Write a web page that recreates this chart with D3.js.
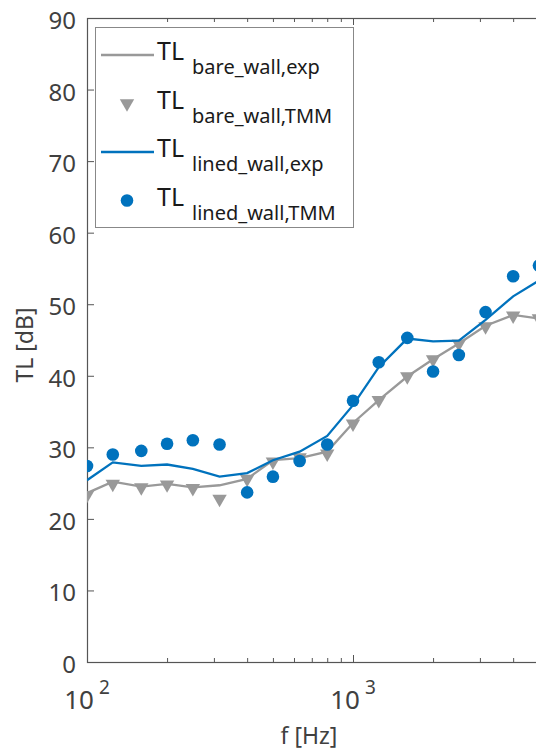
<!DOCTYPE html>
<html>
<head>
<meta charset="utf-8">
<script src="https://cdn.jsdelivr.net/npm/d3@7"></script>
<style>
  body { margin: 0; background: #fff; }
  text { font-family: "Noto Sans", "Open Sans", sans-serif; }
</style>
</head>
<body>
<div id="my_dataviz"></div>
<script>
// third-octave band centre frequencies
var freqs = [100, 125, 160, 200, 250, 315, 400, 500, 630, 800, 1000, 1250, 1600, 2000, 2500, 3150, 4000, 5000];

// measured / modelled transmission loss (dB)
var bareExp  = [23.6, 25.2, 24.5, 24.9, 24.4, 24.7, 25.6, 28.2, 28.5, 29.4, 33.4, 36.6, 39.9, 42.3, 44.5, 47.0, 48.5, 48.0];
var bareTMM  = [23.3, 24.9, 24.4, 24.8, 24.3, 22.8, 25.6, 28.0, 28.6, 29.1, 33.3, 36.6, 39.9, 42.3, 44.5, 46.9, 48.4, 48.0];
var linedExp = [25.4, 27.9, 27.4, 27.6, 27.0, 25.9, 26.4, 28.2, 29.4, 31.6, 35.9, 41.2, 45.2, 44.8, 44.9, 47.8, 51.1, 53.3];
var linedTMM = [27.4, 29.0, 29.5, 30.5, 31.0, 30.4, 23.7, 25.9, 28.1, 30.4, 36.5, 41.9, 45.3, 40.6, 42.9, 48.9, 53.9, 55.4];

var yTicks = [0, 10, 20, 30, 40, 50, 60, 70, 80, 90];
var xMajor = [100, 1000, 10000];
var xLabels = [100, 1000];   // 10^4 sits outside the visible picture
var xMinor = [200, 300, 400, 500, 600, 700, 800, 900, 2000, 3000, 4000, 5000, 6000, 7000, 8000, 9000];
var legendItems = [
  {sub: "bare_wall,exp", kind: "line", color: "#999999"},
  {sub: "bare_wall,TMM", kind: "tri", color: "#999999"},
  {sub: "lined_wall,exp", kind: "line", color: "#0072BD"},
  {sub: "lined_wall,TMM", kind: "dot", color: "#0072BD"}
];

var W = 536, H = 749;
var pLeft = 87, pTop = 18, pBottom = 662, pRight = 619;

var svg = d3.select("#my_dataviz")
  .append("svg")
    .attr("width", W)
    .attr("height", H);

var x = d3.scaleLog().domain([100, 10000]).range([pLeft, pRight]);
var y = d3.scaleLinear().domain([0, 90]).range([pBottom, pTop]);

svg.append("clipPath").attr("id", "clip")
  .append("rect")
    .attr("x", pLeft).attr("y", pTop)
    .attr("width", pRight - pLeft).attr("height", pBottom - pTop);

var axisColor = "#555";
var textColor = "#404040";

// box
svg.append("rect")
  .attr("x", pLeft + 0.5).attr("y", pTop + 0.5)
  .attr("width", pRight - pLeft).attr("height", pBottom - pTop)
  .attr("fill", "none")
  .attr("stroke", axisColor)
  .attr("stroke-width", 1.2);

// y ticks (inward) + labels
svg.selectAll("ytick")
  .data(yTicks)
  .enter()
  .append("line")
    .attr("x1", pLeft).attr("x2", pLeft + 7)
    .attr("y1", d => y(d) + 0.5).attr("y2", d => y(d) + 0.5)
    .attr("stroke", axisColor);

svg.selectAll("ylabel")
  .data(yTicks)
  .enter()
  .append("text")
    .attr("x", pLeft - 11)
    .attr("y", d => y(d) + 11)
    .attr("text-anchor", "end")
    .attr("fill", textColor)
    .style("font-size", "24px")
    .text(d => d);

// x ticks, bottom and top
[[pBottom, -1], [pTop, 1]].forEach(function (s) {
  svg.selectAll("xmaj")
    .data(xMajor)
    .enter()
    .append("line")
      .attr("x1", d => x(d) + 0.5).attr("x2", d => x(d) + 0.5)
      .attr("y1", s[0]).attr("y2", d => s[0] + s[1] * 7)
      .attr("stroke", axisColor);
  svg.selectAll("xmin")
    .data(xMinor)
    .enter()
    .append("line")
      .attr("x1", d => x(d) + 0.5).attr("x2", d => x(d) + 0.5)
      .attr("y1", s[0]).attr("y2", d => s[0] + s[1] * 4)
      .attr("stroke", axisColor);
});

// x tick labels 10^n
var xl = svg.selectAll("xlabel")
  .data(xLabels)
  .enter()
  .append("text")
    .attr("x", d => x(d))
    .attr("y", 709)
    .attr("text-anchor", "middle")
    .attr("fill", textColor)
    .style("font-size", "26px");
xl.append("tspan").text("10");
xl.append("tspan")
  .attr("dx", 5).attr("dy", -15)
  .style("font-size", "19px")
  .text(d => Math.round(Math.log10(d)));

// axis titles
svg.append("text")
  .attr("x", 309).attr("y", 744)
  .attr("text-anchor", "middle")
  .attr("fill", textColor)
  .style("font-size", "23px")
  .text("f [Hz]");

svg.append("text")
  .attr("transform", "translate(33,345)rotate(-90)")
  .attr("text-anchor", "middle")
  .attr("fill", textColor)
  .style("font-size", "23px")
  .text("TL [dB]");

// data
var plot = svg.append("g").attr("clip-path", "url(#clip)");

var line = d3.line()
  .x(d => x(d[0]))
  .y(d => y(d[1]));

plot.append("path")
  .datum(freqs.map((f, i) => [f, bareExp[i]]))
  .attr("d", line)
  .attr("fill", "none")
  .attr("stroke", "#999999")
  .attr("stroke-width", 2.3);

var tri = d3.symbol().type(d3.symbolTriangle).size(90);

plot.selectAll("mytri")
  .data(freqs.map((f, i) => [f, bareTMM[i]]))
  .enter()
  .append("path")
    .attr("d", tri)
    .attr("transform", d => "translate(" + x(d[0]) + "," + y(d[1]) + ")rotate(180)")
    .attr("fill", "#999999");

plot.append("path")
  .datum(freqs.map((f, i) => [f, linedExp[i]]))
  .attr("d", line)
  .attr("fill", "none")
  .attr("stroke", "#0072BD")
  .attr("stroke-width", 2.3);

plot.selectAll("mydots")
  .data(freqs.map((f, i) => [f, linedTMM[i]]))
  .enter()
  .append("circle")
    .attr("cx", d => x(d[0]))
    .attr("cy", d => y(d[1]))
    .attr("r", 6.3)
    .attr("fill", "#0072BD");

// legend
var lg = svg.append("g");
lg.append("rect")
  .attr("x", 95.5).attr("y", 27.5)
  .attr("width", 258).attr("height", 200)
  .attr("fill", "#fff")
  .attr("stroke", "#888")
  .attr("stroke-width", 1);

legendItems.forEach(function (item, i) {
  var cy = 55 + i * 48.5;
  if (item.kind === "line") {
    lg.append("line")
      .attr("x1", 101).attr("x2", 154)
      .attr("y1", cy).attr("y2", cy)
      .attr("stroke", item.color)
      .attr("stroke-width", 2.3);
  } else if (item.kind === "tri") {
    lg.append("path")
      .attr("d", tri)
      .attr("transform", "translate(127," + cy + ")rotate(180)")
      .attr("fill", item.color);
  } else {
    lg.append("circle")
      .attr("cx", 127).attr("cy", cy)
      .attr("r", 6.3)
      .attr("fill", item.color);
  }
  var t = lg.append("text")
    .attr("x", 157).attr("y", cy + 5)
    .attr("fill", "#1a1a1a")
    .style("font-size", "25px");
  t.append("tspan").text("TL");
  t.append("tspan")
    .attr("x", 192).attr("dy", 14)
    .style("font-size", "20px")
    .text(item.sub);
});
</script>
</body>
</html>
